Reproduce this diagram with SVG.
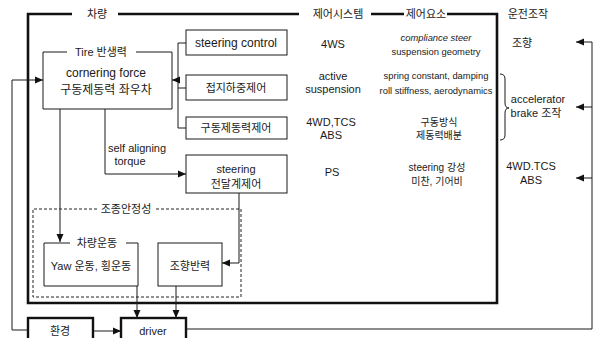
<svg xmlns="http://www.w3.org/2000/svg" width="595" height="338" viewBox="0 0 595 338">
<defs>
<style>
text{font-family:"Liberation Sans","Noto Sans CJK KR",sans-serif;fill:#1a1a1a;text-anchor:middle;dominant-baseline:central}
.t12{font-size:12px}
.t11{font-size:11px}
.t10{font-size:10px}
.t9{font-size:9.4px}
.box{fill:none;stroke:#1a1a1a;stroke-width:1}
.thick{fill:none;stroke:#111;stroke-width:2.6}
.dash{fill:none;stroke:#222;stroke-width:1;stroke-dasharray:3 2}
.ln{fill:none;stroke:#1a1a1a;stroke-width:1}
.arr{marker-end:url(#ah)}
</style>
<marker id="ah" viewBox="0 0 8 8" refX="8" refY="4" markerWidth="8" markerHeight="8" markerUnits="userSpaceOnUse" orient="auto">
<path d="M0,0.5 L8,4 L0,7.5 Z" fill="#111"/>
</marker>
</defs>
<rect width="595" height="338" fill="#fff"/>

<g id="frame-vehicle">
<path class="thick" d="M72,14 H28 V303 H497 V14 H447"/>
<path class="thick" d="M118,14 H299"/>
<path class="thick" d="M371,14 H404"/>
<text class="t11" x="97" y="14">차량</text>
<text class="t11" x="338" y="14">제어시스템</text>
<text class="t11" x="426" y="14">제어요소</text>
</g>

<g id="header-driving">
<text class="t11" x="528" y="14">운전조작</text>
</g>

<g id="tire">
<path class="box" d="M67,52 H43 V109 H172 V52 H136"/>
<text class="t11" x="101" y="52">Tire 반생력</text>
<text class="t12" x="106" y="73">cornering force</text>
<text class="t12" x="106" y="90">구동제동력 좌우차</text>
</g>

<g id="steering-control">
<rect class="box" x="186" y="30" width="101" height="25"/>
<text class="t12" x="236" y="43">steering control</text>
</g>

<g id="contact-load">
<rect class="box" x="186" y="75" width="101" height="25"/>
<text class="t11" x="236" y="88">접지하중제어</text>
</g>

<g id="drive-brake">
<rect class="box" x="186" y="117" width="101" height="22"/>
<text class="t11" x="236" y="128">구동제동력제어</text>
</g>

<g id="steering-transfer">
<rect class="box" x="186" y="155" width="101" height="38"/>
<text class="t11" x="236" y="169">steering</text>
<text class="t11" x="236" y="184">전달계제어</text>
</g>

<g id="stability">
<path class="dash" d="M97,209 H33 V297 H241 V209 H156"/>
<text class="t11" x="126" y="209">조종안정성</text>
</g>

<g id="vehicle-motion">
<path class="box" d="M70,243 H44 V286 H138 V243 H126"/>
<text class="t11" x="97" y="243">차량운동</text>
<text class="t11" x="91" y="266">Yaw 운동, 횡운동</text>
</g>

<g id="steer-reaction">
<rect class="box" x="158" y="243" width="64" height="43"/>
<text class="t11" x="190" y="266">조향반력</text>
</g>

<g id="environment">
<rect x="28" y="318" width="65" height="30" fill="none" stroke="#111" stroke-width="2.4"/>
<text class="t11" x="60" y="331">환경</text>
</g>

<g id="driver">
<rect x="121" y="318" width="65" height="30" fill="none" stroke="#111" stroke-width="2.4"/>
<text class="t11" x="153" y="331">driver</text>
</g>

<g id="col-system">
<text class="t11" x="333" y="44">4WS</text>
<text class="t11" x="333" y="76">active</text>
<text class="t11" x="333" y="89">suspension</text>
<text class="t11" x="331" y="122">4WD,TCS</text>
<text class="t11" x="331" y="135">ABS</text>
<text class="t11" x="332" y="172">PS</text>
</g>

<g id="col-elements">
<text class="t9" x="436" y="37" font-style="italic">compliance steer</text>
<text class="t9" x="436" y="51">suspension geometry</text>
<text class="t9" x="436" y="75">spring constant, damping</text>
<text class="t9" x="436" y="90">roll stiffness, aerodynamics</text>
<text class="t10" x="439" y="122">구동방식</text>
<text class="t10" x="439" y="135">제동력배분</text>
<text class="t10" x="437" y="167">steering 강성</text>
<text class="t10" x="437" y="181">미찬, 기어비</text>
</g>

<g id="col-driving">
<text class="t11" x="522" y="43">조향</text>
<text class="t11" x="538" y="99">accelerator</text>
<text class="t11" x="536" y="113">brake 조작</text>
<text class="t11" x="531" y="166">4WD.TCS</text>
<text class="t11" x="531" y="180">ABS</text>
<path class="ln" d="M500,74 q5,0 5,5 V103 q0,5 4,5 q-4,0 -4,5 V135 q0,5 -5,5"/>
</g>

<g id="connectors">
<path class="ln arr" d="M28,330 H12 V80 H43"/>
<path class="ln" d="M186,43 H178 V128 H186 M178,88 H186"/>
<path class="ln arr" d="M178,80 H172"/>
<path class="ln arr" d="M60,109 V242"/>
<path class="ln arr" d="M105,109 V174 H186"/>
<text class="t11" x="108" y="148" style="text-anchor:start">self aligning</text>
<text class="t11" x="130" y="161">torque</text>
<path class="ln arr" d="M239,193 V263 H222"/>
<path class="ln arr" d="M137,286 V318"/>
<path class="ln arr" d="M176,286 V318"/>
<path class="ln arr" d="M93,331 H121"/>
<path class="ln" d="M186,329 H592 V42"/>
<path class="ln arr" d="M592,42 H576"/>
<path class="ln arr" d="M592,107 H576"/>
<path class="ln arr" d="M592,178 H576"/>
</g>
</svg>
